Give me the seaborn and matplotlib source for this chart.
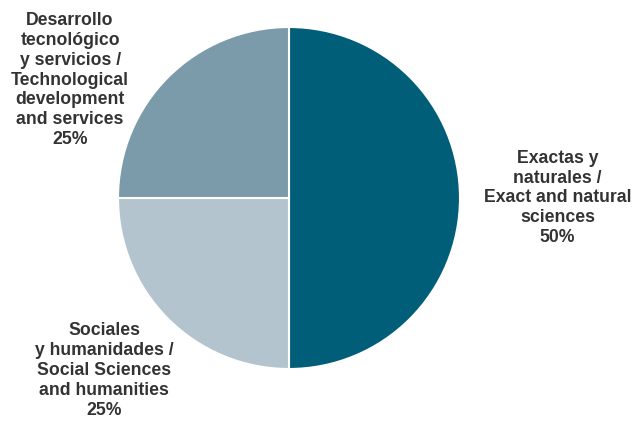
import matplotlib
matplotlib.use("Agg")
import matplotlib.pyplot as plt
import seaborn as sns

# Share of projects by area
areas = ["Exactas y\nnaturales /\nExact and natural\nsciences",
         "Sociales\ny humanidades /\nSocial Sciences\nand humanities",
         "Desarrollo\ntecnológico\ny servicios /\nTechnological\ndevelopment\nand services"]
shares = [50, 25, 25]
colors = ["#015e78", "#b4c4cf", "#7b9bab"]

sns.set_theme(style="white")
plt.rcParams['font.family'] = ['Liberation Sans', 'DejaVu Sans']

fig = plt.figure(figsize=(6.34, 4.22), dpi=100)
ax = fig.add_axes([118 / 634, 53 / 422, 342 / 634, 342 / 422])

wedges, _ = ax.pie(shares, colors=colors, startangle=90, counterclock=False,
                   radius=1.0, wedgeprops=dict(edgecolor="white", linewidth=1.5))
ax.set_xlim(-1, 1)
ax.set_ylim(-1, 1)
ax.set_aspect("equal")
ax.axis("off")

# label positions in pie units
label_pos = [(1.57, 0.0), (-1.08, -1.01), (-1.28, 0.69)]
for name, val, (x, y) in zip(areas, shares, label_pos):
    ax.text(x, y, f"{name}\n{val}%", ha="center", va="center",
            fontsize=12.7, fontweight="bold", color="#333333",
            linespacing=1.22, clip_on=False)

fig.savefig("out.png", dpi=100)
